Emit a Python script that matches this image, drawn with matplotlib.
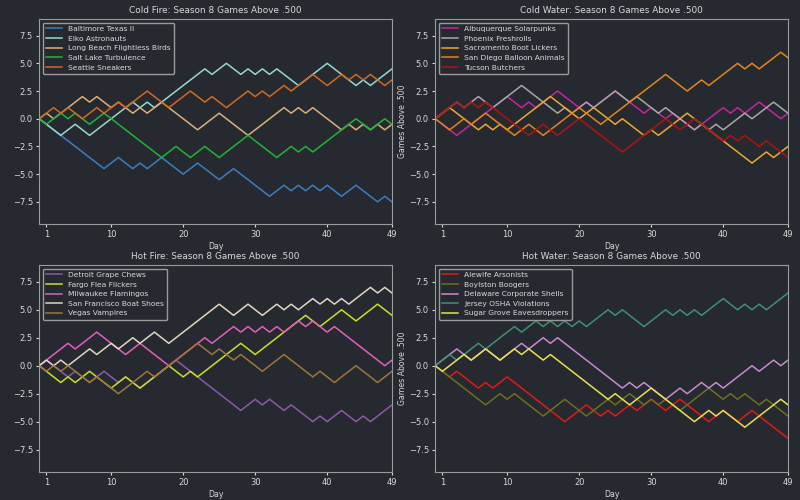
import matplotlib
matplotlib.use("Agg")
import matplotlib.pyplot as plt

days = list(range(0, 50))
x_ticks = [1, 10, 20, 30, 40, 49]
y_ticks = [-7.5, -5.0, -2.5, 0.0, 2.5, 5.0, 7.5]

# Cold Fire
baltimore = [0, -0.5, -1, -1.5, -2, -2.5, -3, -3.5, -4, -4.5, -4, -3.5, -4, -4.5, -4, -4.5, -4, -3.5, -4, -4.5,
             -5, -4.5, -4, -4.5, -5, -5.5, -5, -4.5, -5, -5.5, -6, -6.5, -7, -6.5, -6, -6.5, -6, -6.5, -6, -6.5,
             -6, -6.5, -7, -6.5, -6, -6.5, -7, -7.5, -7, -7.5]
elko = [0, -0.5, -1, -1.5, -1, -0.5, -1, -1.5, -1, -0.5, 0, 0.5, 1, 1.5, 1, 1.5, 1, 1.5, 2, 2.5,
        3, 3.5, 4, 4.5, 4, 4.5, 5, 4.5, 4, 4.5, 4, 4.5, 4, 4.5, 4, 3.5, 3, 3.5, 4, 4.5,
        5, 4.5, 4, 3.5, 3, 3.5, 3, 3.5, 4, 4.5]
long_beach = [0, 0.5, 0, 0.5, 1, 1.5, 2, 1.5, 2, 1.5, 1, 1.5, 1, 0.5, 1, 0.5, 1, 1.5, 1, 0.5,
              0, -0.5, -1, -0.5, 0, 0.5, 0, -0.5, -1, -1.5, -1, -0.5, 0, 0.5, 1, 0.5, 1, 0.5, 1, 0.5,
              0, -0.5, -1, -0.5, -1, -0.5, -1, -0.5, -1, -0.5]
salt_lake = [0, -0.5, 0, 0.5, 0, 0.5, 0, -0.5, 0, 0.5, 0, -0.5, -1, -1.5, -2, -2.5, -3, -3.5, -3, -2.5,
             -3, -3.5, -3, -2.5, -3, -3.5, -3, -2.5, -2, -1.5, -2, -2.5, -3, -3.5, -3, -2.5, -3, -2.5, -3, -2.5,
             -2, -1.5, -1, -0.5, 0, -0.5, -1, -0.5, 0, -0.5]
seattle = [0, 0.5, 1, 0.5, 1, 0.5, 0, 0.5, 1, 0.5, 1, 1.5, 1, 1.5, 2, 2.5, 2, 1.5, 1, 1.5,
           2, 2.5, 2, 1.5, 2, 1.5, 1, 1.5, 2, 2.5, 2, 2.5, 2, 2.5, 3, 2.5, 3, 3.5, 4, 3.5,
           3, 3.5, 4, 3.5, 4, 3.5, 4, 3.5, 3, 3.5]

# Cold Water
albuquerque = [0, -0.5, -1, -1.5, -1, -0.5, 0, 0.5, 1, 1.5, 2, 1.5, 1, 1.5, 1, 1.5, 2, 2.5, 2, 1.5,
               1, 1.5, 1, 1.5, 2, 2.5, 2, 1.5, 1, 0.5, 1, 0.5, 0, 0.5, 0, -0.5, -1, -0.5, 0, 0.5,
               1, 0.5, 1, 0.5, 1, 1.5, 1, 0.5, 0, 0.5]
phoenix = [0, 0.5, 1, 1.5, 1, 1.5, 2, 1.5, 1, 1.5, 2, 2.5, 3, 2.5, 2, 1.5, 1, 0.5, 1, 0.5,
           1, 1.5, 1, 1.5, 2, 2.5, 2, 1.5, 2, 1.5, 1, 0.5, 1, 0.5, 0, -0.5, -1, -0.5, -1, -0.5,
           -1, -0.5, 0, 0.5, 0, 0.5, 1, 1.5, 1, 0.5]
sacramento = [0, 0.5, 1, 0.5, 0, -0.5, -1, -0.5, -1, -0.5, -1, -0.5, 0, 0.5, 1, 1.5, 2, 1.5, 1, 0.5,
              0, 0.5, 1, 0.5, 0, -0.5, 0, -0.5, -1, -1.5, -1, -1.5, -1, -0.5, 0, 0.5, 0, -0.5, -1, -1.5,
              -2, -2.5, -3, -3.5, -4, -3.5, -3, -3.5, -3, -2.5]
san_diego = [0, -0.5, -1, -0.5, 0, -0.5, 0, 0.5, 0, -0.5, -1, -1.5, -1, -0.5, -1, -1.5, -1, -0.5, 0, 0.5,
             1, 0.5, 0, -0.5, 0, 0.5, 1, 1.5, 2, 2.5, 3, 3.5, 4, 3.5, 3, 2.5, 3, 3.5, 3, 3.5,
             4, 4.5, 5, 4.5, 5, 4.5, 5, 5.5, 6, 5.5]
tucson = [0, 0.5, 1, 1.5, 1, 1.5, 1, 1.5, 1, 0.5, 0, -0.5, -1, -1.5, -1, -0.5, -1, -1.5, -1, -0.5,
          0, -0.5, -1, -1.5, -2, -2.5, -3, -2.5, -2, -1.5, -1, -0.5, 0, -0.5, -1, -0.5, 0, -0.5, -1, -1.5,
          -2, -1.5, -2, -1.5, -2, -2.5, -2, -2.5, -3, -3.5]

# Hot Fire
detroit = [0, 0.5, 0, -0.5, -1, -0.5, -1, -1.5, -1, -0.5, -1, -1.5, -1, -1.5, -2, -1.5, -1, -0.5, 0, 0.5,
           0, -0.5, -1, -1.5, -2, -2.5, -3, -3.5, -4, -3.5, -3, -3.5, -3, -3.5, -4, -3.5, -4, -4.5, -5, -4.5,
           -5, -4.5, -4, -4.5, -5, -4.5, -5, -4.5, -4, -3.5]
fargo = [0, -0.5, -1, -1.5, -1, -1.5, -1, -0.5, -1, -1.5, -2, -1.5, -1, -1.5, -2, -1.5, -1, -0.5, 0, -0.5,
         -1, -0.5, -1, -0.5, 0, 0.5, 1, 1.5, 2, 1.5, 1, 1.5, 2, 2.5, 3, 3.5, 4, 4.5, 4, 3.5,
         4, 4.5, 5, 4.5, 4, 4.5, 5, 5.5, 5, 4.5]
milwaukee = [0, 0.5, 1, 1.5, 2, 1.5, 2, 2.5, 3, 2.5, 2, 1.5, 1, 1.5, 2, 1.5, 1, 0.5, 0, 0.5,
             1, 1.5, 2, 2.5, 2, 2.5, 3, 3.5, 3, 3.5, 3, 3.5, 3, 3.5, 3, 3.5, 4, 3.5, 4, 3.5,
             3, 3.5, 3, 2.5, 2, 1.5, 1, 0.5, 0, 0.5]
san_francisco = [0, 0.5, 0, 0.5, 0, 0.5, 1, 1.5, 1, 1.5, 2, 1.5, 2, 2.5, 2, 2.5, 3, 2.5, 2, 2.5,
                 3, 3.5, 4, 4.5, 5, 5.5, 5, 4.5, 5, 5.5, 5, 4.5, 5, 5.5, 5, 5.5, 5, 5.5, 6, 5.5,
                 6, 5.5, 6, 5.5, 6, 6.5, 7, 6.5, 7, 6.5]
vegas = [0, -0.5, 0, -0.5, 0, -0.5, -1, -1.5, -1, -1.5, -2, -2.5, -2, -1.5, -1, -0.5, -1, -0.5, 0, 0.5,
         1, 1.5, 2, 1.5, 1, 1.5, 1, 0.5, 1, 0.5, 0, -0.5, 0, 0.5, 1, 0.5, 0, -0.5, -1, -0.5,
         -1, -1.5, -1, -0.5, 0, -0.5, -1, -1.5, -1, -0.5]

# Hot Water
alewife = [0, -0.5, -1, -0.5, -1, -1.5, -2, -1.5, -2, -1.5, -1, -1.5, -2, -2.5, -3, -3.5, -4, -4.5, -5, -4.5,
           -4, -3.5, -4, -4.5, -4, -4.5, -4, -3.5, -4, -3.5, -3, -3.5, -4, -3.5, -3, -3.5, -4, -4.5, -5, -4.5,
           -4, -4.5, -5, -4.5, -4, -4.5, -5, -5.5, -6, -6.5]
boylston = [0, -0.5, -1, -1.5, -2, -2.5, -3, -3.5, -3, -2.5, -3, -2.5, -3, -3.5, -4, -4.5, -4, -3.5, -3, -3.5,
            -4, -4.5, -4, -3.5, -3, -3.5, -3, -2.5, -3, -3.5, -3, -3.5, -3, -3.5, -4, -3.5, -3, -2.5, -2, -2.5,
            -3, -2.5, -3, -2.5, -3, -3.5, -3, -3.5, -4, -4.5]
delaware = [0, 0.5, 1, 1.5, 1, 0.5, 1, 1.5, 1, 0.5, 1, 1.5, 2, 1.5, 2, 2.5, 2, 2.5, 2, 1.5,
            1, 0.5, 0, -0.5, -1, -1.5, -2, -1.5, -2, -1.5, -2, -2.5, -3, -2.5, -2, -2.5, -2, -1.5, -2, -1.5,
            -2, -1.5, -1, -0.5, 0, -0.5, 0, 0.5, 0, 0.5]
jersey = [0, 0.5, 1, 0.5, 1, 1.5, 2, 1.5, 2, 2.5, 3, 3.5, 3, 3.5, 4, 3.5, 4, 3.5, 4, 3.5,
          4, 3.5, 4, 4.5, 5, 4.5, 5, 4.5, 4, 3.5, 4, 4.5, 5, 4.5, 5, 4.5, 5, 4.5, 5, 5.5,
          6, 5.5, 5, 5.5, 5, 5.5, 5, 5.5, 6, 6.5]
sugar_grove = [0, -0.5, 0, 0.5, 1, 0.5, 1, 1.5, 1, 0.5, 1, 1.5, 1, 1.5, 1, 0.5, 1, 0.5, 0, -0.5,
               -1, -1.5, -2, -2.5, -3, -2.5, -3, -3.5, -3, -2.5, -2, -2.5, -3, -3.5, -4, -4.5, -5, -4.5, -4, -4.5,
               -4, -4.5, -5, -5.5, -5, -4.5, -4, -3.5, -3, -3.5]

panels = [
    ("Cold Fire", [("Baltimore Texas II", baltimore, "#3c7dbf"),
                   ("Elko Astronauts", elko, "#94d8d2"),
                   ("Long Beach Flightless Birds", long_beach, "#d8b07a"),
                   ("Salt Lake Turbulence", salt_lake, "#1fb33c"),
                   ("Seattle Sneakers", seattle, "#d2691e")]),
    ("Cold Water", [("Albuquerque Solarpunks", albuquerque, "#c4259c"),
                    ("Phoenix Freshrolls", phoenix, "#a8a8a8"),
                    ("Sacramento Boot Lickers", sacramento, "#e9a92e"),
                    ("San Diego Balloon Animals", san_diego, "#e0861a"),
                    ("Tucson Butchers", tucson, "#b01212")]),
    ("Hot Fire", [("Detroit Grape Chews", detroit, "#8e58a8"),
                  ("Fargo Flea Flickers", fargo, "#c8e020"),
                  ("Milwaukee Flamingos", milwaukee, "#e35fba"),
                  ("San Francisco Boat Shoes", san_francisco, "#e2d6c2"),
                  ("Vegas Vampires", vegas, "#a0753c")]),
    ("Hot Water", [("Alewife Arsonists", alewife, "#e01a1a"),
                   ("Boylston Boogers", boylston, "#6b701f"),
                   ("Delaware Corporate Shells", delaware, "#cc88cc"),
                   ("Jersey OSHA Violations", jersey, "#3f8f7a"),
                   ("Sugar Grove Eavesdroppers", sugar_grove, "#e8e050")]),
]

bg = "#262a30"
fg = "#d8d8d8"

fig = plt.figure(figsize=(8, 5), dpi=100, facecolor=bg)
boxes = [[0.049, 0.552, 0.441, 0.41], [0.544, 0.552, 0.441, 0.41],
         [0.049, 0.056, 0.441, 0.414], [0.544, 0.056, 0.441, 0.414]]

for i, (box, (name, teams)) in enumerate(zip(boxes, panels)):
    ax = fig.add_axes(box)
    ax.set_facecolor(bg)
    for team, vals, col in teams:
        ax.plot(days, vals, color=col, lw=1.1, label=team)
    ax.set_xlim(0, 49)
    ax.set_ylim(-9.5, 9)
    ax.set_xticks(x_ticks)
    ax.set_yticks(y_ticks)
    ax.set_title(name + ": Season 8 Games Above .500", color=fg, fontsize=6.4, pad=4)
    ax.set_xlabel("Day", color=fg, fontsize=5.6, labelpad=2)
    if i % 2 == 1:
        ax.set_ylabel("Games Above .500", color=fg, fontsize=5.6, labelpad=1)
    ax.tick_params(colors=fg, labelsize=6, length=2.5, pad=2)
    for s in ax.spines.values():
        s.set_color("#9a9a9a")
    leg = ax.legend(loc="upper left", fontsize=5.4, facecolor=bg, edgecolor="#9a9a9a",
                    framealpha=1, handlelength=2.2, borderpad=0.4, labelspacing=0.45)
    for t in leg.get_texts():
        t.set_color(fg)

fig.savefig("out.png", dpi=100, facecolor=bg)
